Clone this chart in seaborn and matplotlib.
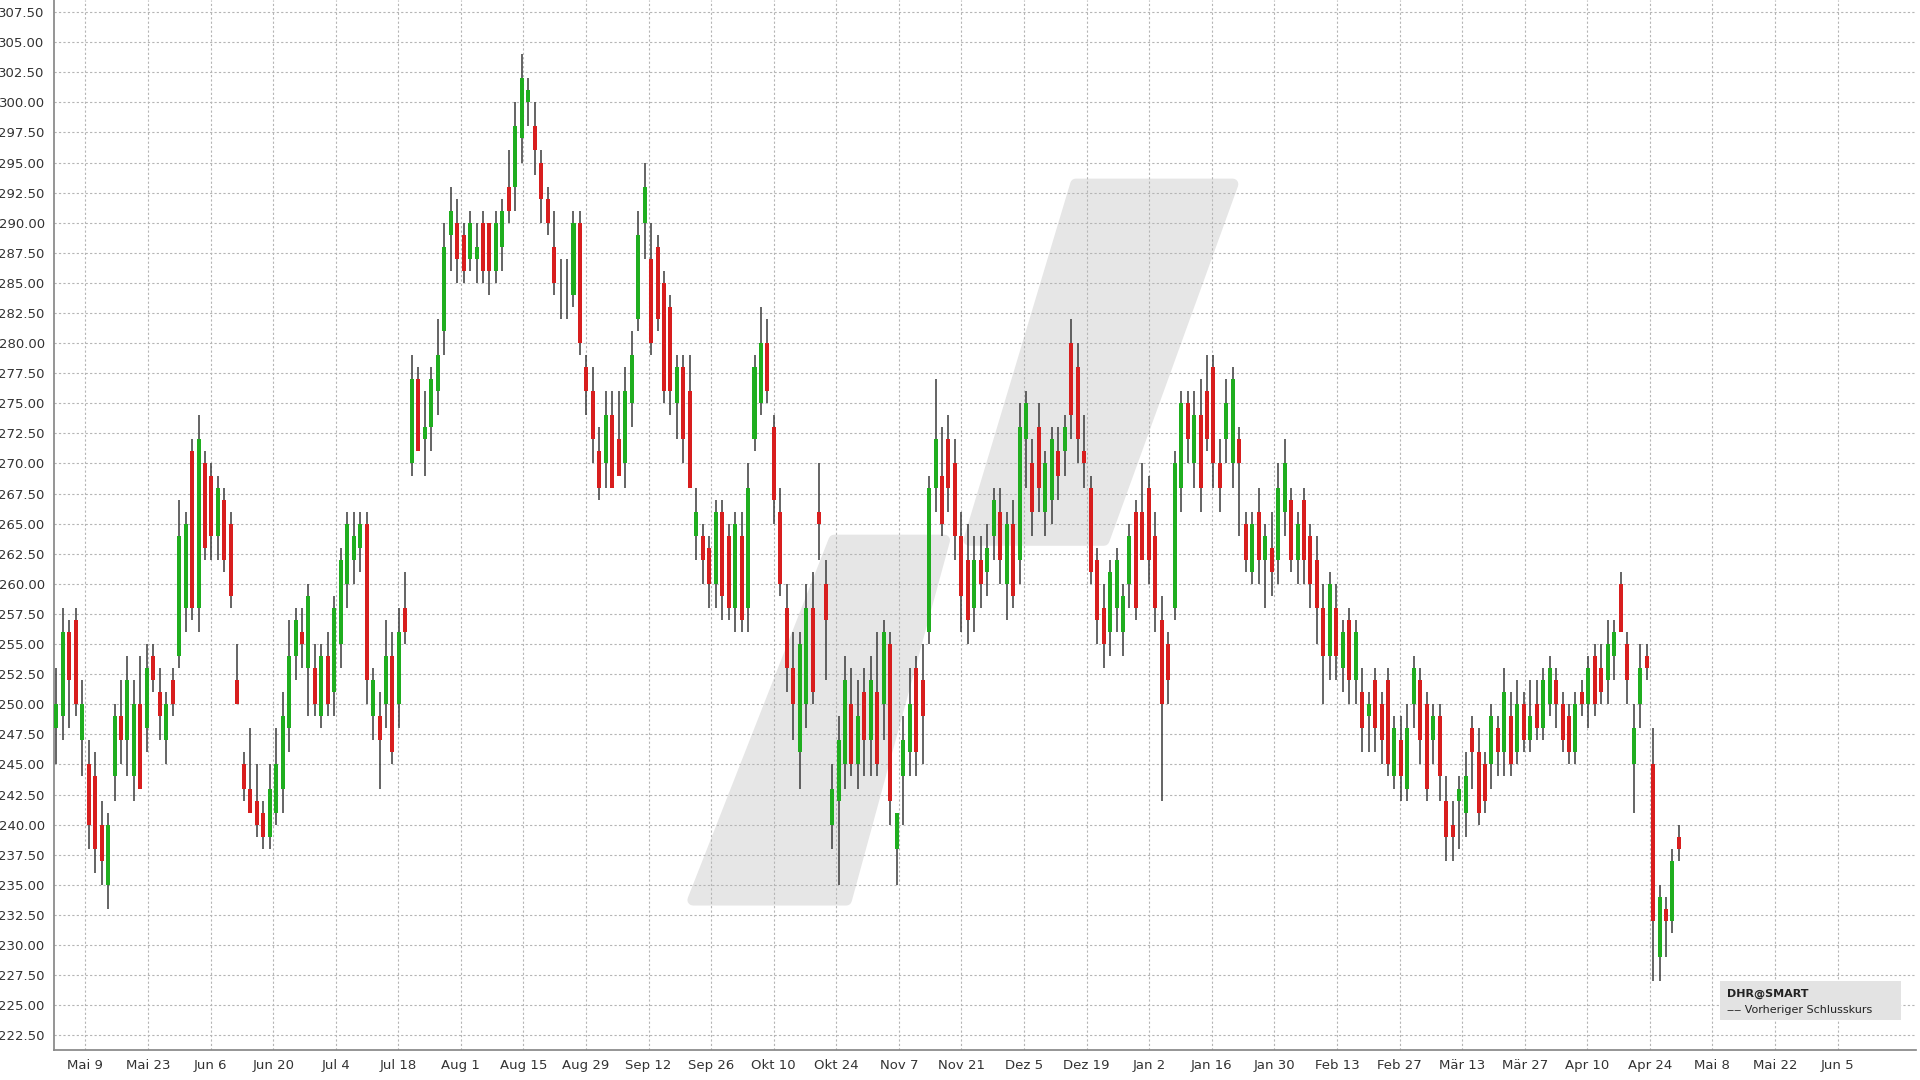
import matplotlib
matplotlib.use("Agg")
import matplotlib.pyplot as plt
import seaborn as sns
import numpy as np
from matplotlib.patches import Polygon, Rectangle

ohlc_rows = [
(248,253,245,250),(249,258,247,256),(256,257,248,252),(257,258,249,250),(247,252,244,250),
(245,247,238,240),(244,246,236,238),(240,242,235,237),(235,241,233,240),(244,250,242,249),
(249,252,245,247),(247,254,244,252),(244,252,242,250),(250,254,243,243),(248,255,246,253),
(254,255,251,252),(251,253,247,249),(247,251,245,250),(252,253,249,250),(254,267,253,264),
(258,266,256,265),(271,272,257,258),(258,274,256,272),(270,271,262,263),(269,270,262,264),
(264,269,262,268),(267,268,261,262),(265,266,258,259),(252,255,250,250),(245,246,242,243),
(243,248,241,241),(242,245,239,240),(241,242,238,239),(239,245,238,243),(241,248,240,245),
(243,251,241,249),(248,257,246,254),(254,258,252,257),(256,258,253,255),(253,260,249,259),
(253,255,249,250),(249,255,248,254),(254,256,249,250),(251,259,249,258),(255,263,253,262),
(260,266,258,265),(262,266,260,264),(263,266,261,265),(265,266,250,252),(249,253,247,252),
(249,251,243,247),(250,257,248,254),(254,256,245,246),(250,258,248,256),(258,261,255,256),
(270,279,269,277),(277,278,272,271),(272,276,269,273),(273,278,271,277),(276,282,274,279),
(281,290,279,288),(289,293,286,291),(290,292,285,287),(289,290,285,286),(287,291,286,290),
(287,290,285,288),(290,291,285,286),(290,290,284,286),(286,291,285,290),(288,292,286,291),
(293,296,290,291),(293,300,291,298),(297,304,295,302),(300,302,298,301),(298,300,294,296),
(295,296,290,292),(292,293,289,290),(288,291,284,285),(285,287,282,285),(284,287,282,284),
(284,291,283,290),(290,291,279,280),(278,279,274,276),(276,278,270,272),(271,273,267,268),
(270,276,268,274),(274,276,268,268),(272,276,269,269),(270,278,268,276),(275,281,273,279),
(282,291,281,289),(290,295,287,293),(287,290,279,280),(288,289,281,282),(285,286,275,276),
(283,284,274,276),(275,279,272,278),(278,279,270,272),(276,279,268,268),(264,268,262,266),
(264,265,260,262),(263,264,258,260),(260,267,258,266),(266,267,257,259),(264,265,257,258),
(258,266,256,265),(264,266,256,257),(258,270,256,268),(272,279,271,278),(275,283,274,280),
(280,282,275,276),(273,274,265,267),(266,268,259,260),(258,260,251,253),(253,256,247,250),
(246,256,243,255),(250,260,248,258),(258,261,250,251),(266,270,262,265),(260,262,252,257),
(240,245,238,243),(242,249,235,247),(245,254,243,252),(250,253,244,245),(245,252,243,249),
(251,253,244,247),(247,254,244,252),(251,256,244,245),(250,257,247,256),(255,256,240,242),
(238,241,235,241),(244,249,240,247),(246,253,244,250),(253,254,244,246),(252,255,245,249),
(256,269,255,268),(268,277,266,272),(269,273,264,265),(272,274,266,268),(270,272,262,264),
(264,266,256,259),(262,265,255,257),(258,264,256,262),(262,264,258,260),(261,265,259,263),
(264,268,262,267),(266,268,260,262),(260,266,257,265),(265,267,258,259),(262,275,260,273),
(272,276,268,275),(270,272,264,266),(273,275,266,268),(266,271,264,270),(267,273,265,272),
(271,273,267,269),(271,274,269,273),(280,282,272,274),(278,280,270,272),(271,274,268,270),
(268,269,260,261),(262,263,255,257),(258,260,253,255),(256,262,254,261),(258,263,256,262),
(256,260,254,259),(260,265,258,264),(266,267,257,258),(266,270,262,262),(268,269,260,262),
(264,266,256,258),(257,259,242,250),(255,256,250,252),(258,271,257,270),(268,276,266,275),
(275,276,270,272),(270,276,268,274),(274,277,266,268),(276,279,271,272),(278,279,268,270),
(270,272,266,268),(272,277,270,275),(270,278,268,277),(272,273,264,270),(265,266,261,262),
(261,266,260,265),(266,268,260,262),(262,265,258,264),(263,266,259,261),(262,270,260,268),
(266,272,264,270),(267,268,261,262),(262,266,260,265),(267,268,260,262),(264,265,258,260),
(262,264,255,258),(258,260,250,254),(254,261,252,260),(258,260,252,254),(253,257,251,256),
(257,258,250,252),(252,257,250,256),(251,253,246,248),(249,251,246,250),(252,253,246,248),
(250,251,245,247),(252,253,244,245),(244,249,243,248),(247,249,242,244),(243,250,242,248),
(250,254,248,253),(252,253,245,247),(250,251,242,243),(247,250,245,249),(249,250,242,244),
(242,244,237,239),(240,242,237,239),(242,244,238,243),(241,246,239,244),(248,249,243,246),
(246,248,240,241),(245,246,241,242),(245,250,243,249),(248,249,244,246),(246,253,244,251),
(249,251,244,245),(246,252,245,250),(250,251,246,247),(247,252,246,249),(250,252,247,248),
(248,253,247,252),(250,254,249,253),(252,253,248,250),(250,251,246,247),(249,250,245,246),
(246,251,245,250),(251,252,249,250),(250,254,248,253),(254,255,249,250),(253,255,250,251),
(252,257,250,255),(254,257,252,256),(260,261,256,256),(255,256,250,252),(245,250,241,248),
(250,255,248,253),(254,255,252,253),(245,248,227,232),(229,235,227,234),(233,234,229,232),
(232,238,231,237),(239,240,237,238),
]
opens = [r[0] for r in ohlc_rows]
highs = [r[1] for r in ohlc_rows]
lows = [r[2] for r in ohlc_rows]
closes = [r[3] for r in ohlc_rows]

tick_labels = ["Mai 9","Mai 23","Jun 6","Jun 20","Jul 4","Jul 18","Aug 1","Aug 15","Aug 29",
               "Sep 12","Sep 26","Okt 10","Okt 24","Nov 7","Nov 21","Dez 5","Dez 19","Jan 2",
               "Jan 16","Jan 30","Feb 13","Feb 27","Mär 13","Mär 27","Apr 10","Apr 24",
               "Mai 8","Mai 22","Jun 5"]
y_ticks = np.arange(222.5, 307.6, 2.5)

sns.set_theme(style="white")
plt.rcParams['font.family'] = ['DejaVu Sans']

fig = plt.figure(figsize=(19.2, 10.8), dpi=100)
ax = fig.add_axes([0.028, 0.028, 0.97, 0.972])

o = np.array(opens, float); h = np.array(highs, float)
l = np.array(lows, float); c = np.array(closes, float)
x = np.arange(len(o))
up = c >= o
ax.vlines(x, l, h, color="#3a3a3a", linewidth=1.1, zorder=3)
ax.bar(x[up], (c - o)[up], bottom=o[up], width=0.62, color="#1fae1f", zorder=4, linewidth=0)
ax.bar(x[~up], (o - c)[~up], bottom=c[~up], width=0.62, color="#d81e1e", zorder=4, linewidth=0)

ax.set_xlim(-0.4, 287.7)
ax.set_ylim(221.3, 308.5)
ax.set_yticks(y_ticks)
ax.set_yticklabels([f"{v:.2f}" for v in y_ticks])
ax.set_xticks(4.5 + 9.68 * np.arange(len(tick_labels)))
ax.set_xticklabels(tick_labels)
ax.tick_params(axis="both", labelsize=9.5, colors="#333333", length=3, width=0.8)
ax.grid(True, color="#b5b5b5", linestyle=(0, (2, 2)), linewidth=0.8)
for s in ["top", "right"]:
    ax.spines[s].set_visible(False)
ax.spines["left"].set_color("#888888")
ax.spines["bottom"].set_color("#888888")

def pt(px, py):
    return ((px - 44) / 1518.0, 1 - py / 855.0)
lower = [pt(565, 733), pt(690, 733), pt(770, 440), pt(680, 440)]
upper = [pt(790, 440), pt(900, 440), pt(1005, 150), pt(877, 150)]
for poly in (lower, upper):
    ax.add_patch(Polygon(poly, closed=True, transform=ax.transAxes, facecolor="#e6e6e6",
                         edgecolor="#e6e6e6", linewidth=8, joinstyle="round", zorder=0.5))

bx0, by0 = pt(1402, 831)
bx1, by1 = pt(1550, 799)
ax.add_patch(Rectangle((bx0, by0), bx1 - bx0, by1 - by0, transform=ax.transAxes,
                       facecolor="#e3e3e3", edgecolor="none", zorder=5))
ax.text(bx0 + 0.004, by1 - 0.012, "DHR@SMART", transform=ax.transAxes, fontsize=8,
        fontweight="bold", color="#222222", zorder=6, va="center")
ax.text(bx0 + 0.004, by0 + 0.010, "‒‒ Vorheriger Schlusskurs", transform=ax.transAxes,
        fontsize=8, color="#222222", zorder=6, va="center")

fig.savefig("out.png", dpi=100)
